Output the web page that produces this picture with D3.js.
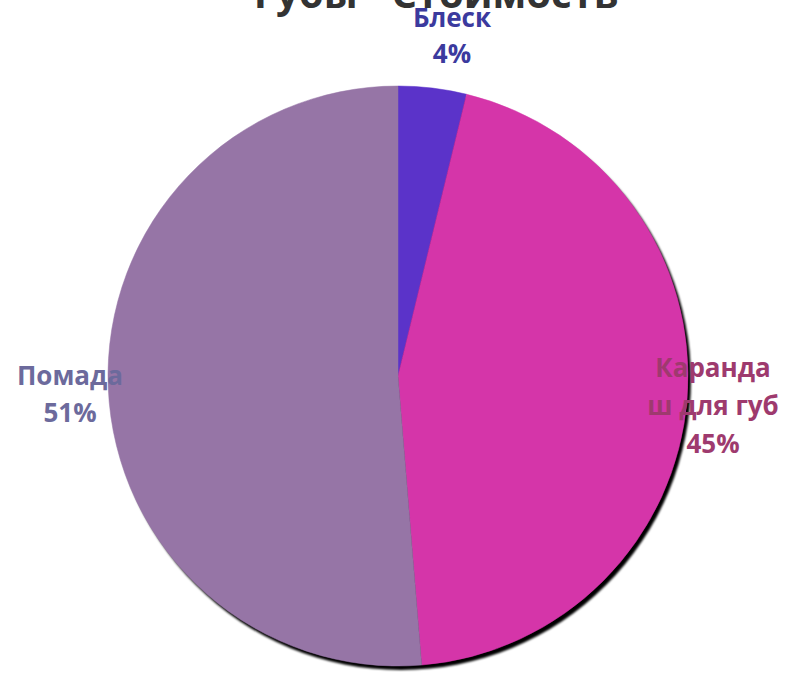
<!DOCTYPE html>
<html><head><meta charset="utf-8">
<script src="https://cdn.jsdelivr.net/npm/d3@7"></script>
<style>body{margin:0;background:#fff}svg{display:block}</style>
</head><body>
<svg id="c" width="789" height="678"></svg>
<script>
const title = "Губы - Стоимость";
const categories = ["Блеск", "Карандаш для губ", "Помада"];
const values = [3.8, 44.9, 51.3];
const sliceColors = ["#5B33C9", "#D535A9", "#9675A6"];
const labelColors = ["#3B3A9E", "#9E3A6E", "#6C6A9C"];
const labelLines = [["Блеск"], ["Каранда", "ш для губ"], ["Помада"]];

const svg = d3.select("#c");
const cx = 398, cy = 376, r = 290;
const defs = svg.append("defs");
defs.append("filter").attr("id","sh").attr("x","-10%").attr("y","-10%").attr("width","120%").attr("height","120%")
  .append("feGaussianBlur").attr("stdDeviation", 1.2);

const total = d3.sum(values);
const pie = d3.pie().sort(null).value(d => d)(values);
const arc = d3.arc().innerRadius(0).outerRadius(r);

const g = svg.append("g").attr("transform", `translate(${cx},${cy})`);
g.append("circle").attr("cx", 3).attr("cy", 4).attr("r", r).attr("fill", "#000").attr("filter", "url(#sh)");
g.selectAll("path.s").data(pie).enter().append("path")
  .attr("d", arc).attr("fill", (d,i) => sliceColors[i])
  .attr("stroke", (d,i)=>sliceColors[i]).attr("stroke-width", 0.5);

svg.append("text").attr("x", 436).attr("y", 8).attr("text-anchor","middle")
  .attr("font-family","'Open Sans', sans-serif").attr("font-weight","bold").attr("font-size", 40)
  .attr("fill","#333").text(title);

const labelPos = [[452, 27, 36], [713, 377, 38], [70, 385, 37]];
pie.forEach((d,i) => {
  const [x, y, lh] = labelPos[i];
  const lines = labelLines[i].concat([Math.round(d.value/total*100) + "%"]);
  const t = svg.append("text").attr("text-anchor","middle")
    .attr("font-family","'Open Sans', sans-serif").attr("font-weight","bold").attr("font-size", 26)
    .attr("fill", labelColors[i]);
  lines.forEach((l, k) => t.append("tspan").attr("x", x).attr("y", y + k*lh).text(l));
});
</script>
</body></html>
